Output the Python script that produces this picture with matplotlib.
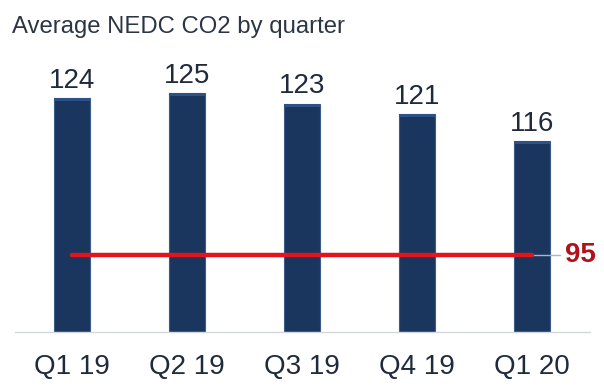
import matplotlib
matplotlib.use("Agg")
import matplotlib.pyplot as plt
from matplotlib.patches import Rectangle

quarters = ["Q1 19", "Q2 19", "Q3 19", "Q4 19", "Q1 20"]
co2 = [124, 125, 123, 121, 116]
target = 95
title = "Average NEDC CO2 by quarter"

plt.rcParams['font.family'] = ['Liberation Sans', 'DejaVu Sans']

fig = plt.figure(figsize=(6.04, 3.87), dpi=100)
ax = fig.add_axes([15/604, 55/387, 575/604, 272/387])
ymin = 80.7
ax.set_ylim(ymin, ymin + 272/5.4)
ax.set_xlim(-0.496, 4.504)

x = list(range(len(quarters)))
w = 0.32
bars = ax.bar(x, [v - ymin for v in co2], bottom=ymin, width=w,
              color="#1A365E", edgecolor="#3B5B88", linewidth=0.8, zorder=2)
# top bevel highlight
for xi, v in zip(x, co2):
    ax.add_patch(Rectangle((xi - w/2, v - 0.55), w, 0.55, facecolor="#2E5288",
                           edgecolor="none", zorder=3))
    ax.annotate(str(v), (xi, v), xytext=(0, 3), textcoords="offset points",
                ha="center", va="bottom", fontsize=20, color="#1F2A3C")

# target line
ax.plot([x[-1], 4.24], [target, target], color="#A9B5C6", lw=1, zorder=3)
ax.plot([x[0], x[-1]], [target, target], color="#E3141C", lw=3.2, zorder=4,
        solid_capstyle="round")
ax.text(4.29, target, str(target), ha="left", va="center", fontsize=20,
        fontweight="bold", color="#B0111A")

for s in ["top", "right", "left"]:
    ax.spines[s].set_visible(False)
ax.spines["bottom"].set_color("#D3D8E0")
ax.spines["bottom"].set_linewidth(1)
ax.set_yticks([])
ax.set_xticks(x)
ax.set_xticklabels(quarters, fontsize=20, color="#1F2A3C")
ax.tick_params(axis="x", length=0, pad=16)

fig.text(12/604, 1 - 16/387, title, ha="left", va="top", fontsize=17.2,
         color="#2B3545")

fig.savefig("out.png", dpi=100)
